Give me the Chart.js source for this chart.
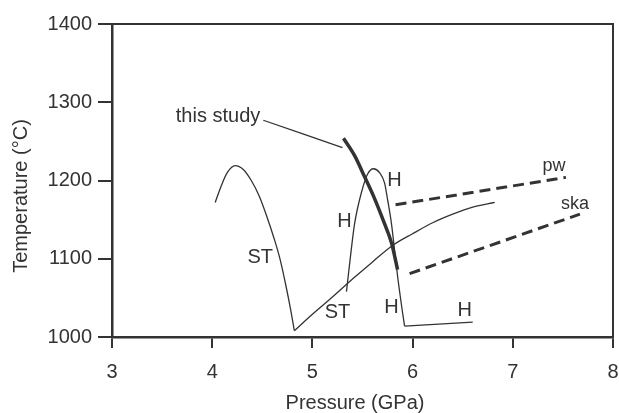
<!DOCTYPE html>
<html>
<head>
<meta charset="utf-8">
<script src="https://cdn.jsdelivr.net/npm/chart.js@4"></script>
<style>
  html, body { margin: 0; padding: 0; background: #fff; }
  #wrap { width: 619px; height: 413px; }
</style>
</head>
<body>
<div id="wrap"><canvas id="grafico" width="619" height="413"></canvas></div>
<script>
// pressure (GPa) / temperature (°C)
const stEsqP = [4.03, 4.09, 4.15, 4.23, 4.31, 4.39, 4.47, 4.54, 4.62, 4.68, 4.73, 4.78, 4.82];
const stEsqT = [1172, 1193, 1210, 1219, 1214, 1200, 1180, 1156, 1125, 1098, 1069, 1037, 1008];

const solidusP = [4.82, 5.0, 5.2, 5.4, 5.6, 5.8, 6.0, 6.2, 6.4, 6.6, 6.82];
const solidusT = [1008, 1029, 1051, 1074, 1096, 1117, 1132, 1146, 1157, 1166, 1172];

const hP = [5.34, 5.38, 5.42, 5.49, 5.55, 5.61, 5.67, 5.72, 5.75, 5.79, 5.82, 5.85, 5.90, 5.92];
const hT = [1058, 1103, 1144, 1185, 1208, 1215, 1210, 1197, 1176, 1144, 1111, 1078, 1031, 1014];

const hBaseP = [5.92, 6.60];
const hBaseT = [1014, 1019];

const estudoP = [5.31, 5.42, 5.52, 5.61, 5.71, 5.79, 5.85];
const estudoT = [1254, 1232, 1205, 1180, 1148, 1120, 1086];

const setaP = [4.51, 5.30];
const setaT = [1277, 1242];

const pwP = [5.83, 7.53];
const pwT = [1169, 1204];

const skaP = [5.97, 7.67];
const skaT = [1081, 1157];

const rotulos = ["this study", "ST", "ST", "H", "H", "H", "H", "pw", "ska"];
const rotuloP = [4.48, 4.48, 5.25, 5.32, 5.82, 5.79, 6.52, 7.41, 7.62];
const rotuloT = [1282, 1101, 1031, 1147, 1200, 1038, 1034, 1219, 1170];

const xTicks = [3, 4, 5, 6, 7, 8];
const yTicks = [1000, 1100, 1200, 1300, 1400];

function pares(px, py) {
  return px.map((p, i) => ({ x: p, y: py[i] }));
}

function serie(px, py, largura, extra) {
  return Object.assign({
    data: pares(px, py),
    borderColor: "#333",
    borderWidth: largura,
    pointRadius: 0,
    showLine: true,
    fill: false,
    cubicInterpolationMode: "monotone"
  }, extra || {});
}

const cor = "#333";
const fonte = "'Liberation Sans', Arial, sans-serif";

const textos = {
  id: "textos",
  afterDraw(chart) {
    const ctx = chart.ctx;
    const xs = chart.scales.x, ys = chart.scales.y;
    const area = chart.chartArea;
    ctx.save();
    // top and right frame
    ctx.strokeStyle = cor;
    ctx.lineWidth = 2;
    ctx.beginPath();
    ctx.moveTo(area.left, area.top);
    ctx.lineTo(area.right, area.top);
    ctx.lineTo(area.right, area.bottom);
    ctx.stroke();

    ctx.fillStyle = cor;
    ctx.textBaseline = "middle";
    rotulos.forEach((txt, i) => {
      const pequeno = txt === "pw" || txt === "ska";
      ctx.font = (pequeno ? "18px " : "20px ") + fonte;
      ctx.textAlign = txt === "this study" ? "right" : "center";
      ctx.fillText(txt, xs.getPixelForValue(rotuloP[i]), ys.getPixelForValue(rotuloT[i]));
    });

    // axis titles
    ctx.font = "20px " + fonte;
    ctx.textAlign = "center";
    ctx.fillText("Pressure (GPa)", 355, 403);
    ctx.translate(21, 196);
    ctx.rotate(-Math.PI / 2);
    ctx.fillText("Temperature (°C)", 0, 0);
    ctx.restore();
  }
};

new Chart(document.getElementById("grafico"), {
  type: "scatter",
  data: {
    datasets: [
      serie(stEsqP, stEsqT, 1.3),
      serie(solidusP, solidusT, 1.3),
      serie(hP, hT, 1.3),
      serie(hBaseP, hBaseT, 1.3),
      serie(estudoP, estudoT, 3.5),
      serie(setaP, setaT, 1.3),
      serie(pwP, pwT, 3, { borderDash: [11, 6] }),
      serie(skaP, skaT, 3, { borderDash: [11, 6] })
    ]
  },
  options: {
    responsive: false,
    animation: false,
    layout: { padding: { left: 0, top: 24, right: 6, bottom: 0 } },
    plugins: { legend: { display: false }, tooltip: { enabled: false } },
    scales: {
      x: {
        type: "linear",
        min: 3,
        max: 8,
        afterFit: s => { s.height = 76; s.paddingLeft = 0; s.paddingRight = 0; },
        afterBuildTicks: s => { s.ticks = xTicks.map(v => ({ value: v })); },
        grid: { drawOnChartArea: false, drawTicks: true, tickLength: 11, color: cor, lineWidth: 2 },
        border: { display: true, color: cor, width: 2.5 },
        ticks: { color: cor, font: { family: fonte, size: 20 }, padding: 12, maxRotation: 0, callback: v => String(v) },
        title: { display: false }
      },
      y: {
        type: "linear",
        min: 1000,
        max: 1400,
        afterFit: s => { s.width = 112; s.paddingTop = 0; s.paddingBottom = 0; },
        afterBuildTicks: s => { s.ticks = yTicks.map(v => ({ value: v })); },
        grid: { drawOnChartArea: false, drawTicks: true, tickLength: 14, color: cor, lineWidth: 2 },
        border: { display: true, color: cor, width: 2.5 },
        ticks: { color: cor, font: { family: fonte, size: 20 }, padding: 6, callback: v => String(v) },
        title: { display: false }
      }
    }
  },
  plugins: [textos]
});
</script>
</body>
</html>
